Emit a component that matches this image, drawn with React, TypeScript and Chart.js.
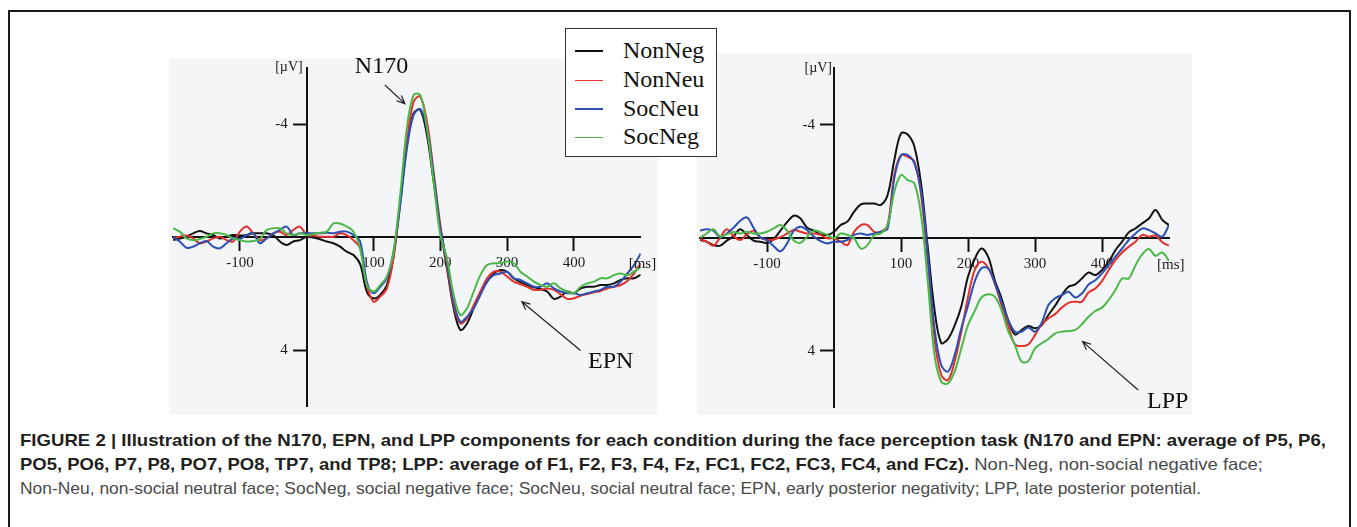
import React, { useEffect, useLayoutEffect, useRef } from 'react';
import { Chart, registerables } from 'chart.js';

Chart.register(...registerables);

// ---------- DATA ----------
const TIMES = [
  -200, -190, -180, -170, -160, -150, -140, -130, -120, -110, -100, -90, -80, -70, -60, -50, -40, -30, -20, -10,
  0, 10, 20, 30, 40, 50, 60, 70, 80, 90, 100, 110, 120, 130, 140, 150, 160, 170, 180, 190, 200,
  210, 220, 230, 240, 250, 260, 270, 280, 290, 300, 310, 320, 330, 340, 350, 360, 370, 380, 390, 400,
  410, 420, 430, 440, 450, 460, 470, 480, 490, 500,
];

const SERIES_NAMES = ['NonNeg', 'NonNeu', 'SocNeu', 'SocNeg'];
const SERIES_COLORS = ['#121212', '#e3302b', '#2f4fb2', '#4cb848'];

const X_TICKS = [-100, 100, 200, 300, 400];
const Y_TICKS = [-4, 4];

// Left panel: N170 / EPN (µV, negative up)
const LEFT_NONNEG = [
  0.10, 0.04, -0.02, -0.14, -0.22, -0.14, -0.08, 0.04, -0.02, -0.08, -0.06, -0.08, -0.14, -0.14, -0.14, -0.08, 0.15, 0.27, 0.15, 0.10,
  -0.02, 0.01, 0.07, 0.15, 0.21, 0.33, 0.51, 0.63, 0.95, 1.92, 2.16, 2.04, 1.69, 0.63, -1.26, -3.27, -4.39, -4.51, -3.62, -1.97, -0.32,
  1.10, 2.51, 3.28, 3.05, 2.51, 1.98, 1.57, 1.28, 1.16, 1.22, 1.45, 1.59, 1.69, 1.77, 1.83, 1.92, 2.18, 2.10, 1.92, 1.98,
  1.81, 1.75, 1.75, 1.69, 1.69, 1.63, 1.51, 1.45, 1.45, 1.33,
];
const LEFT_NONNEU = [
  0.04, -0.02, -0.06, 0.04, 0.21, 0.15, 0.04, -0.02, 0.10, 0.15, -0.20, -0.38, -0.14, 0.10, 0.04, -0.14, -0.20, -0.08, -0.26, -0.38,
  -0.08, -0.06, -0.02, -0.02, -0.02, -0.14, -0.08, 0.10, 0.39, 1.69, 2.28, 2.10, 1.81, 0.74, -1.26, -3.39, -4.80, -4.98, -4.09, -2.32, -0.44,
  0.98, 2.40, 3.05, 2.87, 2.40, 1.92, 1.45, 1.22, 1.22, 1.39, 1.57, 1.66, 1.75, 1.86, 1.86, 1.81, 1.86, 2.02, 2.18, 2.16,
  2.07, 2.01, 1.95, 1.90, 1.81, 1.75, 1.69, 1.55, 1.28, 0.92,
];
const LEFT_SOCNEU = [
  -0.02, 0.15, 0.37, 0.33, 0.21, 0.13, 0.33, 0.39, 0.21, 0.04, 0.06, -0.08, -0.14, 0.21, 0.04, -0.14, -0.26, -0.38, -0.08, -0.14,
  -0.14, -0.14, -0.14, -0.16, -0.14, -0.20, -0.20, -0.08, 0.15, 1.57, 1.98, 1.75, 1.45, 0.51, -1.14, -3.15, -4.33, -4.54, -3.86, -2.20, -0.32,
  0.86, 2.28, 2.99, 2.81, 2.51, 2.04, 1.57, 1.34, 1.28, 1.22, 1.45, 1.51, 1.63, 1.75, 1.75, 1.63, 1.81, 1.92, 1.98, 1.98,
  2.04, 1.98, 1.92, 1.86, 1.75, 1.75, 1.57, 1.28, 0.98, 0.57,
];
const LEFT_SOCNEG = [
  -0.32, -0.20, 0.04, 0.10, 0.06, -0.02, -0.14, -0.14, -0.08, 0.04, 0.10, 0.15, 0.13, 0.06, -0.26, -0.32, -0.32, -0.14, -0.08, -0.14,
  -0.08, -0.12, -0.16, -0.20, -0.49, -0.49, -0.38, -0.20, 0.39, 1.69, 1.92, 1.69, 1.39, 0.51, -1.50, -3.86, -5.04, -5.04, -3.86, -1.97, -0.08,
  0.74, 2.04, 2.75, 2.51, 1.92, 1.34, 0.98, 0.92, 0.92, 0.86, 0.92, 1.22, 1.39, 1.57, 1.69, 1.75, 1.63, 1.81, 1.92, 1.98,
  1.75, 1.63, 1.57, 1.45, 1.45, 1.34, 1.28, 1.34, 1.22, 1.04,
];

// Right panel: LPP
const RIGHT_NONNEG = [
  0.08, 0.14, 0.26, 0.28, 0.10, -0.05, -0.30, -0.10, 0.10, 0.14, 0.18, 0.05, -0.25, -0.55, -0.78, -0.68, -0.35, -0.25, -0.12, -0.10,
  -0.21, -0.45, -0.57, -0.92, -1.18, -1.21, -1.21, -1.16, -1.51, -2.74, -3.69, -3.65, -3.22, -1.90, 0.34, 2.54, 3.72, 3.58, 3.11, 2.43, 1.37,
  0.75, 0.38, 0.67, 1.50, 2.14, 2.91, 3.42, 3.26, 3.12, 3.20, 3.09, 2.73, 2.40, 2.03, 1.73, 1.65, 1.44, 1.23, 1.32, 1.14,
  0.85, 0.44, 0.14, -0.19, -0.33, -0.51, -0.68, -0.98, -0.63, -0.45,
];
const RIGHT_NONNEU = [
  0.05, 0.14, 0.28, 0.00, -0.30, -0.06, 0.08, -0.12, -0.25, 0.00, 0.08, 0.06, -0.02, -0.15, -0.27, -0.21, -0.15, -0.15, -0.10, 0.02,
  0.02, 0.14, 0.26, -0.21, -0.45, -0.45, -0.21, -0.21, -0.45, -2.22, -2.92, -2.86, -2.69, -1.51, 0.85, 3.56, 4.85, 5.03, 4.38, 3.32, 2.10,
  1.14, 0.85, 1.06, 1.61, 2.38, 3.11, 3.77, 3.83, 3.77, 3.44, 3.06, 2.85, 2.70, 2.47, 2.30, 2.26, 2.26, 1.93, 1.79, 1.53,
  1.14, 0.79, 0.52, 0.32, 0.14, -0.10, -0.04, -0.07, 0.16, 0.28,
];
const RIGHT_SOCNEU = [
  -0.25, -0.30, -0.25, -0.03, -0.15, -0.35, -0.60, -0.72, -0.35, -0.02, 0.08, 0.30, 0.48, 0.20, -0.25, -0.39, -0.27, -0.04, 0.12, 0.20,
  0.14, 0.14, 0.08, -0.10, -0.15, -0.10, -0.15, -0.21, -0.33, -2.10, -2.92, -2.92, -2.63, -1.63, 0.61, 3.20, 4.50, 4.73, 4.15, 3.20, 2.40,
  1.55, 1.08, 1.08, 1.61, 2.26, 2.91, 3.32, 3.32, 3.17, 3.32, 3.00, 2.38, 2.14, 2.03, 1.91, 2.11, 1.97, 1.65, 1.50, 1.26,
  0.97, 0.67, 0.38, 0.08, -0.15, -0.33, -0.27, -0.15, -0.04, -0.45,
];
const RIGHT_SOCNEG = [
  0.00, -0.15, -0.30, -0.05, -0.12, -0.20, -0.15, -0.21, -0.15, -0.15, -0.21, -0.33, -0.45, -0.25, 0.10, 0.18, -0.04, -0.25, -0.20, -0.10,
  0.02, -0.15, -0.10, 0.02, 0.38, 0.26, -0.10, -0.15, -0.45, -1.63, -2.22, -2.04, -1.92, -0.80, 1.55, 4.15, 5.09, 5.15, 4.73, 3.91, 3.09,
  2.59, 2.12, 2.00, 2.08, 2.56, 3.30, 3.79, 4.38, 4.36, 3.91, 3.73, 3.58, 3.38, 3.32, 3.30, 3.26, 3.06, 2.79, 2.59, 2.47,
  2.20, 1.85, 1.44, 1.44, 0.97, 0.59, 0.40, 0.64, 0.52, 0.82,
];

const LEFT_SERIES = [LEFT_NONNEG, LEFT_NONNEU, LEFT_SOCNEU, LEFT_SOCNEG];
const RIGHT_SERIES = [RIGHT_NONNEG, RIGHT_NONNEU, RIGHT_SOCNEU, RIGHT_SOCNEG];

// Component annotations (label, label anchor [ms, µV], arrow tail, arrow tip)
const LEFT_NOTES = [
  { text: 'N170', at: [112, -5.82], from: [117, -5.39], to: [147, -4.73] },
  { text: 'EPN', at: [455, 4.64], from: [410, 4.01], to: [322, 2.28] },
];
const RIGHT_NOTES = [
  { text: 'LPP', at: [498, 6.03], from: [454, 5.38], to: [371, 3.67] },
];

const CAPTION_BOLD_1 =
  'FIGURE 2 | Illustration of the N170, EPN, and LPP components for each condition during the face perception task (N170 and EPN: average of P5, P6,';
const CAPTION_BOLD_2 =
  'PO5, PO6, P7, P8, PO7, PO8, TP7, and TP8; LPP: average of F1, F2, F3, F4, Fz, FC1, FC2, FC3, FC4, and FCz).';
const CAPTION_REG_2 = ' Non-Neg, non-social negative face;';
const CAPTION_REG_3 =
  'Non-Neu, non-social neutral face; SocNeg, social negative face; SocNeu, social neutral face; EPN, early posterior negativity; LPP, late posterior potential.';

// ---------- STYLE ----------
const SERIF = '"Liberation Serif", "Times New Roman", "DejaVu Serif", serif';
const SANS = '"Liberation Sans Narrow", "Liberation Sans", Arial, sans-serif';
const PANEL_BG = '#f3f5f7';

const panelPlugin = {
  id: 'erpPanel',
  beforeDraw(chart: any, _args: any, opts: any) {
    const { ctx, chartArea } = chart;
    const p = opts.bg;
    ctx.save();
    ctx.fillStyle = PANEL_BG;
    ctx.fillRect(
      chartArea.left - p[0],
      chartArea.top - p[1],
      chartArea.right - chartArea.left + p[0] + p[2],
      chartArea.bottom - chartArea.top + p[1] + p[3]
    );
    ctx.restore();
  },
  beforeDatasetsDraw(chart: any) {
    // y tick labels, placed left of the tick marks of the centred y axis
    const { ctx } = chart;
    const xs = chart.scales.x;
    const ys = chart.scales.y;
    const ax = xs.getPixelForValue(0);
    ctx.save();
    ctx.fillStyle = '#1a1a1a';
    ctx.font = '15px ' + SERIF;
    ctx.textAlign = 'right';
    ctx.textBaseline = 'middle';
    for (const v of Y_TICKS) {
      ctx.fillText(String(v), ax - 19, ys.getPixelForValue(v));
    }
    ctx.restore();
  },
  afterDraw(chart: any, _args: any, opts: any) {
    const { ctx, chartArea } = chart;
    const xs = chart.scales.x;
    const ys = chart.scales.y;
    ctx.save();
    ctx.fillStyle = '#1a1a1a';
    ctx.font = '14px ' + SERIF;
    ctx.textAlign = 'right';
    ctx.textBaseline = 'middle';
    ctx.fillText('[\u00B5V]', xs.getPixelForValue(0) - opts.uvGap, chartArea.top);
    ctx.font = '15px ' + SERIF;
    ctx.textAlign = 'left';
    ctx.fillText('[ms]', chartArea.right - 12, ys.getPixelForValue(0) + 27);

    for (const n of opts.notes) {
      ctx.font = '24px ' + SERIF;
      ctx.textAlign = 'center';
      ctx.textBaseline = 'alphabetic';
      ctx.fillStyle = '#111';
      ctx.fillText(n.text, xs.getPixelForValue(n.at[0]), ys.getPixelForValue(n.at[1]));
      const x1 = xs.getPixelForValue(n.from[0]);
      const y1 = ys.getPixelForValue(n.from[1]);
      const x2 = xs.getPixelForValue(n.to[0]);
      const y2 = ys.getPixelForValue(n.to[1]);
      ctx.strokeStyle = '#222';
      ctx.lineWidth = 1.2;
      ctx.beginPath();
      ctx.moveTo(x1, y1);
      ctx.lineTo(x2, y2);
      const ang = Math.atan2(y2 - y1, x2 - x1);
      const hl = 9;
      const ha = 0.42;
      ctx.moveTo(x2 - hl * Math.cos(ang - ha), y2 - hl * Math.sin(ang - ha));
      ctx.lineTo(x2, y2);
      ctx.lineTo(x2 - hl * Math.cos(ang + ha), y2 - hl * Math.sin(ang + ha));
      ctx.stroke();
    }
    ctx.restore();
  },
};

function buildConfig(series: number[][], notes: any[], padding: any, bg: number[], uvGap: number): any {
  const datasets = series.map((vals, i) => ({
    label: SERIES_NAMES[i],
    data: vals.map((v, k) => ({ x: TIMES[k], y: v })),
    borderColor: SERIES_COLORS[i],
    backgroundColor: SERIES_COLORS[i],
    borderWidth: 2,
    pointRadius: 0,
    tension: 0.35,
    fill: false,
    order: series.length - i,
  }));
  const axisCommon = {
    type: 'linear',
    border: { display: true, color: '#111', width: 2 },
    grid: { display: true, drawOnChartArea: false, drawTicks: true, tickLength: 13, tickWidth: 2, tickColor: '#111' },
  };
  return {
    type: 'line',
    data: { datasets },
    plugins: [panelPlugin],
    options: {
      animation: false,
      responsive: false,
      maintainAspectRatio: false,
      events: [],
      layout: { padding },
      plugins: {
        legend: { display: false },
        tooltip: { enabled: false },
        erpPanel: { notes, bg, uvGap },
      },
      scales: {
        x: {
          ...axisCommon,
          min: -200,
          max: 500,
          position: { y: 0 },
          ticks: { font: { family: SERIF, size: 15 }, color: '#1a1a1a', padding: 4, maxRotation: 0, autoSkip: false },
          afterBuildTicks: (s: any) => {
            s.ticks = X_TICKS.map((v) => ({ value: v }));
          },
        },
        y: {
          ...axisCommon,
          min: -6,
          max: 6,
          reverse: true,
          position: { x: 0 },
          ticks: { display: false, font: { family: SERIF, size: 15 }, autoSkip: false },
          afterBuildTicks: (s: any) => {
            s.ticks = Y_TICKS.map((v) => ({ value: v }));
          },
        },
      },
    },
  };
}

function ErpPanel(props: { series: number[][]; notes: any[]; left: number; top: number; width: number; height: number; padding: any; bg: number[]; uvGap: number }) {
  const ref = useRef<HTMLCanvasElement | null>(null);
  useEffect(() => {
    if (!ref.current) return;
    const chart = new Chart(ref.current, buildConfig(props.series, props.notes, props.padding, props.bg, props.uvGap));
    return () => chart.destroy();
  }, []);
  return (
    <canvas
      ref={ref}
      width={props.width}
      height={props.height}
      style={{ position: 'absolute', left: props.left, top: props.top, width: props.width, height: props.height }}
    />
  );
}

const LEGEND_BASELINES = [56.7, 86, 114.5, 143];

function Legend() {
  return (
    <div
      style={{
        position: 'absolute',
        left: 565,
        top: 28,
        width: 150,
        height: 127,
        border: '1.5px solid #333',
        background: '#ffffff',
        zIndex: 2,
      }}
    >
      {SERIES_NAMES.map((name, i) => (
        <React.Fragment key={name}>
          <div
            style={{
              position: 'absolute',
              left: 9,
              top: LEGEND_BASELINES[i] - 28 - 6.5 - 0.75,
              width: 28,
              height: 1.5,
              background: SERIES_COLORS[i],
            }}
          />
          <div
            style={{
              position: 'absolute',
              left: 57,
              top: LEGEND_BASELINES[i] - 28 - 20,
              fontFamily: SERIF,
              fontSize: 24,
              lineHeight: '24px',
              color: '#111',
              whiteSpace: 'nowrap',
            }}
          >
            {name}
          </div>
        </React.Fragment>
      ))}
    </div>
  );
}

const CAPTION_RIGHTS = [1326, 1263, 1201];

export default function App() {
  const lineRefs = [useRef<HTMLDivElement | null>(null), useRef<HTMLDivElement | null>(null), useRef<HTMLDivElement | null>(null)];

  useLayoutEffect(() => {
    lineRefs.forEach((r, i) => {
      const el = r.current;
      if (!el) return;
      el.style.transform = 'none';
      const w = el.getBoundingClientRect().width;
      const target = CAPTION_RIGHTS[i] - 20;
      if (w > 0) el.style.transform = `scaleX(${target / w})`;
    });
  }, []);

  const lineStyle = (top: number): React.CSSProperties => ({
    position: 'absolute',
    left: 20,
    top,
    fontFamily: SANS,
    fontSize: 17,
    lineHeight: '24px',
    whiteSpace: 'nowrap',
    transformOrigin: '0 0',
  });

  return (
    <div style={{ position: 'absolute', left: 0, top: 0, width: 1357, height: 527, overflow: 'hidden', background: '#fff' }}>
      <div
        style={{
          position: 'absolute',
          left: 8,
          top: 10,
          width: 1339,
          height: 600,
          borderTop: '2px solid #1a1a1a',
          borderLeft: '2px solid #1a1a1a',
          borderRight: '2px solid #1a1a1a',
        }}
      />
      <ErpPanel
        series={LEFT_SERIES}
        notes={LEFT_NOTES}
        left={160}
        top={40}
        width={510}
        height={380}
        padding={{ left: 13.1, right: 29.3, top: 27.8, bottom: 13.2 }}
        bg={[4, 9, 17, 8]}
        uvGap={4}
      />
      <ErpPanel
        series={RIGHT_SERIES}
        notes={RIGHT_NOTES}
        left={690}
        top={40}
        width={510}
        height={380}
        padding={{ left: 10, right: 31, top: 28, bottom: 12.5 }}
        bg={[3, 15, 23, 7.5]}
        uvGap={2}
      />
      <Legend />
      <div ref={lineRefs[0]} style={{ ...lineStyle(429), fontWeight: 700, color: '#231f20' }}>
        {CAPTION_BOLD_1}
      </div>
      <div ref={lineRefs[1]} style={lineStyle(453)}>
        <span style={{ fontWeight: 700, color: '#231f20' }}>{CAPTION_BOLD_2}</span>
        <span style={{ color: '#4a4a4a' }}>{CAPTION_REG_2}</span>
      </div>
      <div ref={lineRefs[2]} style={{ ...lineStyle(477), color: '#4a4a4a' }}>
        {CAPTION_REG_3}
      </div>
    </div>
  );
}
